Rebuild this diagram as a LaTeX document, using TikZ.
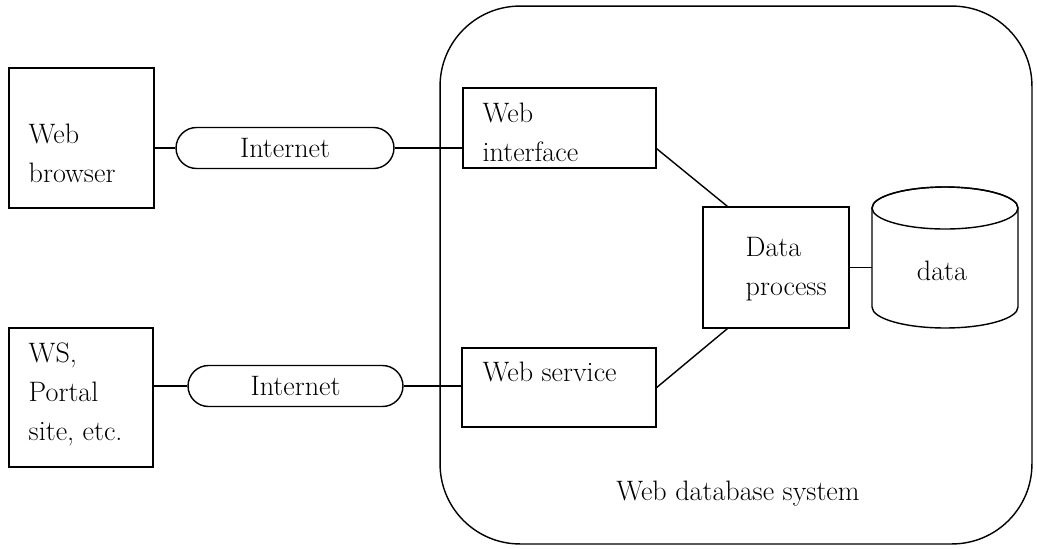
\documentclass[tikz,border=0pt]{standalone}
\usepackage{tikz}
\usetikzlibrary{
  shapes.geometric,
  shapes.misc,
  positioning
}

\begin{document}
\begin{tikzpicture}[
  x=0.02cm, y=-0.02cm,
  font=\fontsize{16}{22}\selectfont,
  every path/.style={line width=0.8pt},
  box/.style={
    draw, minimum width=#1,
    inner sep=0pt
  },
  net/.style={
    draw, rounded rectangle,
    minimum width=4.3cm, minimum height=0.82cm,
    inner sep=0pt
  },
  txt/.style={anchor=base west, align=left, inner sep=0pt},
  link/.style={line width=0.8pt}
]
\useasboundingbox (0,0) rectangle (1037,548);

% Systeme
\node[draw, rounded corners=1.6cm, minimum width=11.84cm, minimum height=10.76cm] (wdbs) at (736,275) {};
\node[anchor=base, inner sep=0pt] (wdbslbl) at (738,500) {Web database system};

% Clients
\node[box=2.9cm, minimum height=2.8cm] (browser) at (81.5,138) {};
\node[txt] (browsertxt) at (28,182) {Web\\browser};

\node[box=2.88cm, minimum height=2.78cm] (ws) at (81,397.5) {};
\node[txt] (wstxt) at (28,440) {WS,\\Portal\\site, etc.};

% Reseau
\node[net, minimum width=4.36cm] (net1) at (285,148) {Internet};
\node[net] (net2) at (295.5,386) {Internet};

% Interfaces
\node[box=3.86cm, minimum height=1.6cm] (webif) at (559.5,128) {};
\node[txt] (webiftxt) at (482,161) {Web\\interface};

\node[box=3.88cm, minimum height=1.58cm] (websvc) at (559,387.5) {};
\node[txt] (websvctxt) at (482,381) {Web service};

% Traitement et donnees
\node[box=2.92cm, minimum height=2.42cm] (dp) at (776,267.5) {};
\node[txt] (dptxt) at (745,295) {Data\\process};

\node[minimum width=2.92cm, minimum height=2.82cm, inner sep=0pt, outer sep=0pt] (data) at (945,257.5) {};
\draw ([yshift=-0.42cm]data.north west) -- ([yshift=0.42cm]data.south west)
  arc[start angle=180, end angle=360, x radius=1.46cm, y radius=0.42cm]
  -- ([yshift=-0.42cm]data.north east)
  arc[start angle=0, end angle=180, x radius=1.46cm, y radius=0.42cm] -- cycle;
\draw ([yshift=-0.42cm]data.north) ellipse [x radius=1.46cm, y radius=0.42cm];
\node[anchor=base, inner sep=0pt] (datatxt) at (942,280) {data};

% Liaisons
\draw[link] (net1.west -| browser.east) -- (net1.west);
\draw[link] (net1.east) -- (net1.east -| webif.west);
\draw[link] (net2.west -| ws.east) -- (net2.west);
\draw[link] (net2.east) -- (net2.east -| websvc.west);
\draw[link] ([yshift=0.4cm]webif.south east) -- ([xshift=0.5cm]dp.north west);
\draw[link] (websvc.east) -- ([xshift=0.5cm]dp.south west);
\draw[link] (dp.east) -- (dp.east -| data.west);
\end{tikzpicture}
\end{document}
